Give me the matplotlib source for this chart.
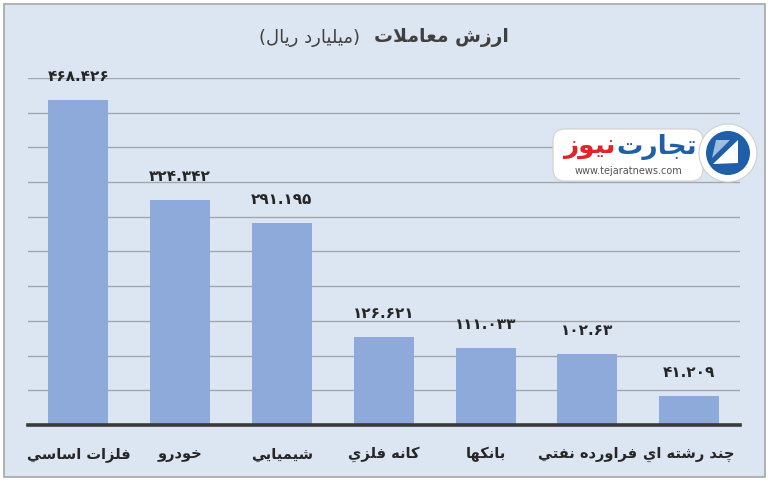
import matplotlib
matplotlib.use("Agg")
import matplotlib.pyplot as plt
from matplotlib.patches import FancyBboxPatch, Circle, Rectangle, Polygon

# data
categories = ["فلزات اساسي", "خودرو", "شيميايي", "كانه فلزي", "بانكها", "فراورده نفتي", "چند رشته اي"]
values = [468.426, 324.342, 291.195, 126.621, 111.033, 102.63, 41.209]
title_bold = "ارزش معاملات"
title_unit = "(میلیارد ریال)"

# Arabic presentation forms: isolated, final, initial, medial
FORMS = {
    "ا": ("\uFE8D", "\uFE8E"), "د": ("\uFEA9", "\uFEAA"), "ذ": ("\uFEAB", "\uFEAC"),
    "ر": ("\uFEAD", "\uFEAE"), "ز": ("\uFEAF", "\uFEB0"), "و": ("\uFEED", "\uFEEE"),
    "ژ": ("\uFB8A", "\uFB8B"),
    "ب": ("\uFE8F", "\uFE90", "\uFE91", "\uFE92"), "ت": ("\uFE95", "\uFE96", "\uFE97", "\uFE98"),
    "ث": ("\uFE99", "\uFE9A", "\uFE9B", "\uFE9C"), "ج": ("\uFE9D", "\uFE9E", "\uFE9F", "\uFEA0"),
    "ح": ("\uFEA1", "\uFEA2", "\uFEA3", "\uFEA4"), "خ": ("\uFEA5", "\uFEA6", "\uFEA7", "\uFEA8"),
    "س": ("\uFEB1", "\uFEB2", "\uFEB3", "\uFEB4"), "ش": ("\uFEB5", "\uFEB6", "\uFEB7", "\uFEB8"),
    "ع": ("\uFEC9", "\uFECA", "\uFECB", "\uFECC"), "ف": ("\uFED1", "\uFED2", "\uFED3", "\uFED4"),
    "ق": ("\uFED5", "\uFED6", "\uFED7", "\uFED8"), "ك": ("\uFED9", "\uFEDA", "\uFEDB", "\uFEDC"),
    "ک": ("\uFB8E", "\uFB8F", "\uFB90", "\uFB91"), "ل": ("\uFEDD", "\uFEDE", "\uFEDF", "\uFEE0"),
    "م": ("\uFEE1", "\uFEE2", "\uFEE3", "\uFEE4"), "ن": ("\uFEE5", "\uFEE6", "\uFEE7", "\uFEE8"),
    "ه": ("\uFEE9", "\uFEEA", "\uFEEB", "\uFEEC"), "ي": ("\uFEF1", "\uFEF2", "\uFEF3", "\uFEF4"),
    "ی": ("\uFBFC", "\uFBFD", "\uFEF3", "\uFEF4"), "پ": ("\uFB56", "\uFB57", "\uFB58", "\uFB59"),
    "چ": ("\uFB7A", "\uFB7B", "\uFB7C", "\uFB7D"),
}
MIRROR = {"(": ")", ")": "("}
FA_DIGITS = str.maketrans("0123456789", "۰۱۲۳۴۵۶۷۸۹")
FONT = "DejaVu Sans"


def shape(text):
    out = []
    i = 0
    n = len(text)
    while i < n:
        c = text[i]
        if c not in FORMS:
            out.append(c)
            i += 1
            continue
        prev = text[i - 1] if i > 0 else ""
        joins_prev = prev in FORMS and len(FORMS[prev]) == 4
        if c == "ل" and i + 1 < n and text[i + 1] == "ا":
            out.append("\uFEFC" if joins_prev else "\uFEFB")
            i += 2
            continue
        nxt = text[i + 1] if i + 1 < n else ""
        forms = FORMS[c]
        joins_next = len(forms) == 4 and nxt in FORMS
        if joins_prev and joins_next:
            out.append(forms[3])
        elif joins_prev:
            out.append(forms[1])
        elif joins_next:
            out.append(forms[2])
        else:
            out.append(forms[0])
        i += 1
    return "".join(MIRROR.get(ch, ch) for ch in reversed(out))


W, H = 768, 482
fig = plt.figure(figsize=(W / 100, H / 100), dpi=100)
fig.patch.set_facecolor("white")
inch = fig.dpi_scale_trans
renderer = fig.canvas.get_renderer()


def px(x, y):
    return x / 100, (H - y) / 100


def width_px(t):
    return t.get_window_extent(renderer).width


# chart area frame
fig.add_artist(Rectangle(px(4, 477), 761 / 100, 473 / 100, transform=inch,
                         facecolor="#dce6f2", edgecolor="#a6a6a6", lw=1.2, zorder=0))

ax = fig.add_axes([27.5 / W, 1 - 425 / H, (740 - 27.5) / W, (425 - 78) / H])
ax.set_facecolor("none")
x = range(len(values))
ax.bar(x, values, width=0.59, color="#8eaadb", zorder=2)
ax.set_ylim(0, 500)
ax.set_xlim(-0.5, len(values) - 0.5)
ax.set_yticks(range(50, 501, 50))
ax.yaxis.grid(True, color="#a0a6ad", lw=1.0, zorder=1)
ax.tick_params(left=False, labelleft=False, bottom=False)
for s in ["top", "right", "left"]:
    ax.spines[s].set_visible(False)
ax.spines["bottom"].set_color("#3a3a3a")
ax.spines["bottom"].set_linewidth(2.6)
ax.spines["bottom"].set_zorder(3)
ax.set_xticks(list(x))
ax.set_xticklabels([shape(c) for c in categories], fontsize=10.5, fontweight="bold",
                   color="#262626", family=FONT)
ax.tick_params(axis="x", pad=12)

for xi, v in zip(x, values):
    ax.annotate(str(v).translate(FA_DIGITS), (xi, v), xytext=(0, 17), textcoords="offset points",
                ha="center", va="center", fontsize=11, fontweight="bold", color="#262626",
                family=FONT)

# title: bold part on the right, unit on the left
t1 = fig.text(*px(509, 38), shape(title_bold), ha="right", va="center", fontsize=13.5,
              fontweight="bold", color="#404040", transform=inch, family=FONT)
w1 = width_px(t1)
fig.text(*px(509 - w1 - 14, 38), shape(title_unit), ha="right", va="center", fontsize=13,
         color="#404040", transform=inch, family=FONT)

# logo
fig.add_artist(FancyBboxPatch(px(553, 181), 150 / 100, 52 / 100, transform=inch,
                              boxstyle="round,pad=0,rounding_size=0.12",
                              facecolor="white", edgecolor="#d0d0d0", lw=0.8, zorder=5))
fig.add_artist(Circle(px(728, 153), 0.29, transform=inch, facecolor="white",
                      edgecolor="#d0d0d0", lw=0.8, zorder=5))
fig.add_artist(Circle(px(728, 153), 0.22, transform=inch, facecolor="#1f5fa8", zorder=6))
fig.add_artist(Polygon([px(713, 164), px(738, 140), px(738, 163)], closed=True,
                       transform=inch, facecolor="white", zorder=7))
fig.add_artist(Polygon([px(712, 158), px(730, 140), px(716, 140)], closed=True,
                       transform=inch, facecolor="#9fbde0", zorder=7))
t2 = fig.text(*px(697, 147), shape("تجارت"), ha="right", va="center", fontsize=19,
              fontweight="bold", color="#1f5fa8", transform=inch, zorder=8, family=FONT)
w2 = width_px(t2)
fig.text(*px(697 - w2 - 1, 147), shape("نیوز"), ha="right", va="center", fontsize=19,
         fontweight="bold", color="#e02428", transform=inch, zorder=8, family=FONT)
fig.text(*px(628, 171), "www.tejaratnews.com", ha="center", va="center", fontsize=7,
         color="#555555", transform=inch, zorder=8)

fig.savefig("out.png", dpi=100)
